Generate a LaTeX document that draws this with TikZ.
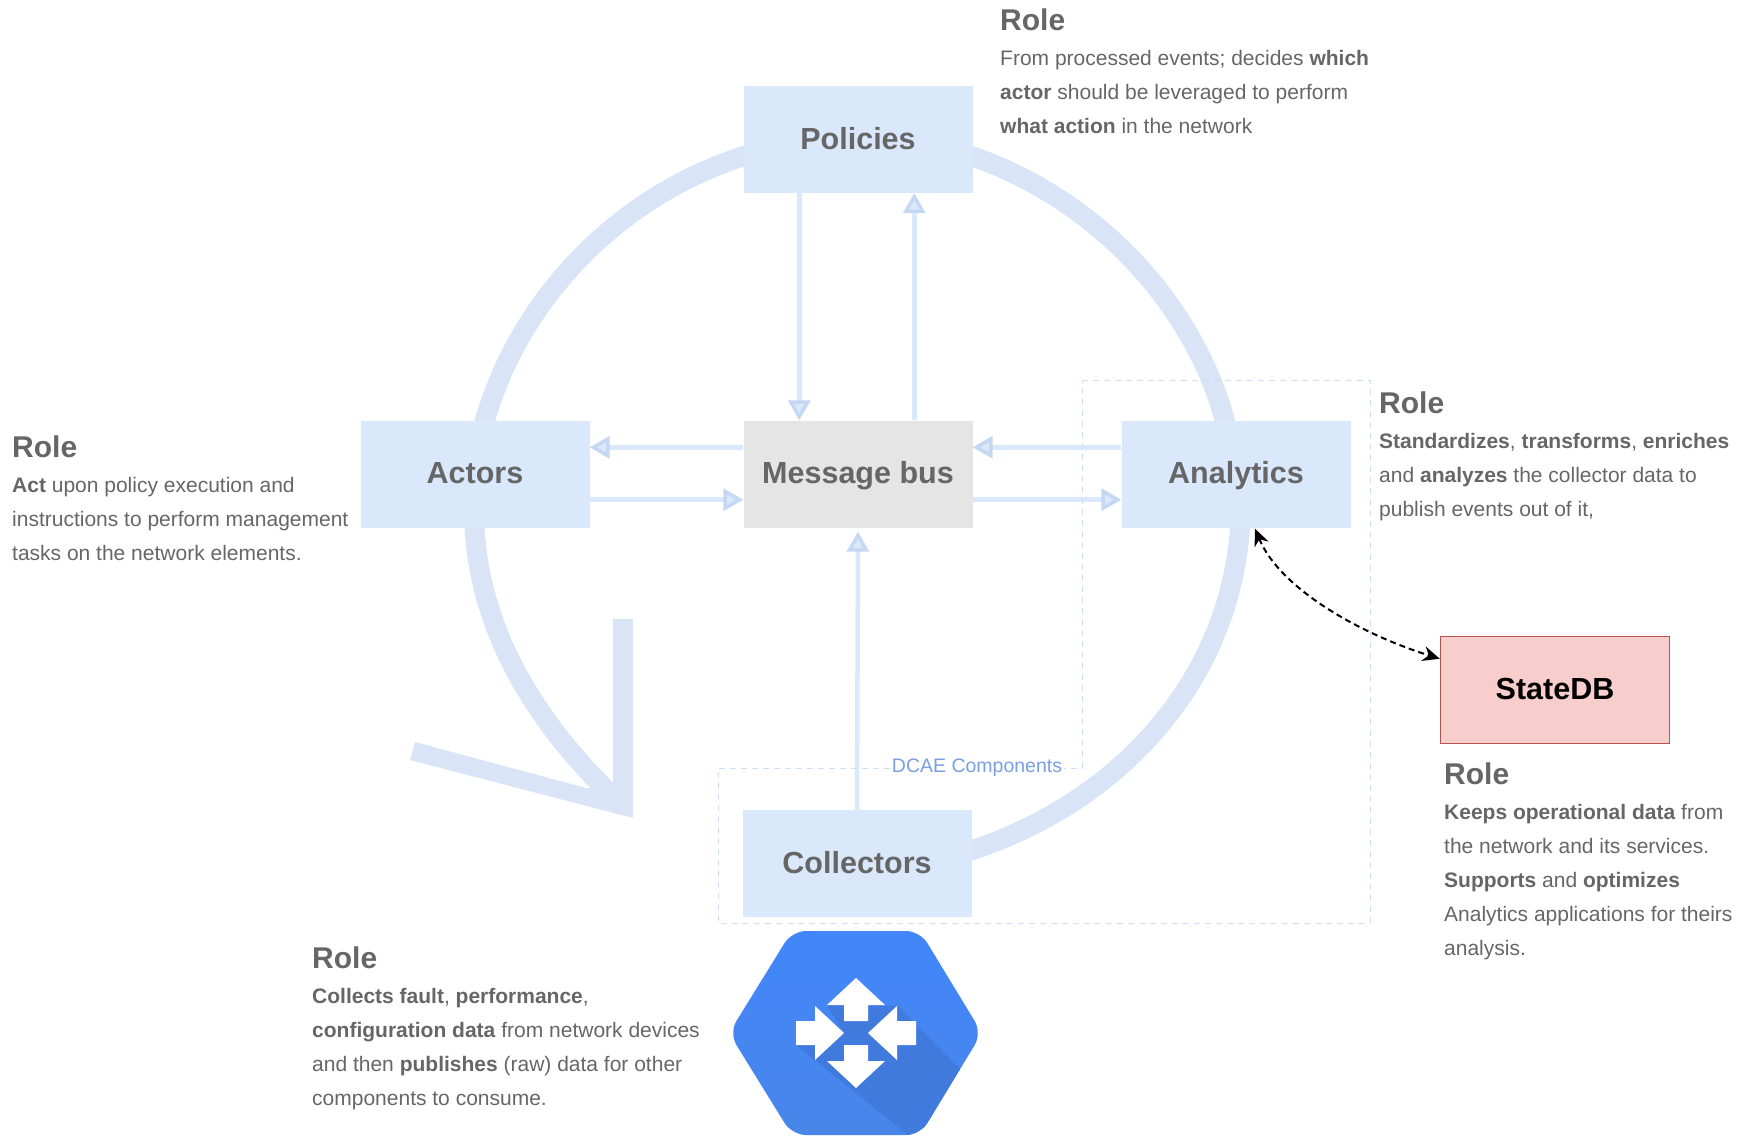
\documentclass[tikz,border=0pt]{standalone}
\usepackage{fontspec}
\setmainfont{Liberation Sans}
\usetikzlibrary{arrows.meta,backgrounds,calc}
\definecolor{Boxblue}{RGB}{218,232,252}
\definecolor{Ringblue}{RGB}{217,229,246}
\definecolor{Tipblue}{RGB}{196,215,243}
\definecolor{Dashblue}{RGB}{205,222,247}
\definecolor{Labelblue}{RGB}{120,160,226}
\definecolor{Textgrey}{RGB}{102,102,102}
\definecolor{Hextop}{RGB}{66,134,252}
\definecolor{Hexbottom}{RGB}{72,134,232}
\definecolor{Hexshade}{RGB}{64,122,220}
\definecolor{Statered}{RGB}{248,206,204}
\definecolor{Stateedge}{RGB}{184,84,80}
\tikzset{
  box/.style={minimum width=229,minimum height=107,inner sep=0,text height=25,text depth=6,fill=Boxblue,text=Textgrey,font=\fontsize{30.5}{34}\selectfont\bfseries},
  role/.style={anchor=north west,inner sep=0,align=left,text=Textgrey,font=\fontsize{21}{34}\selectfont},
  ring/.style={line width=20,draw=Ringblue},
  flow/.style={line width=4.5,draw=Boxblue,-{Triangle[length=20,width=22,line width=3.5,color=Tipblue,fill=Boxblue]}},
}
\newcommand{\rolehead}{{\fontsize{30}{34}\selectfont\bfseries Role}\\[0.5pt]}
\begin{document}
\begin{tikzpicture}[x=1pt,y=-1pt]
  \useasboundingbox (0,0) rectangle (1748,1135);
  \node[box] (policies) at (858,139.5) {Policies};
  \node[box] (actors) at (475,474) {Actors};
  \node[box,fill=black!10] (bus) at (858,474) {Message bus};
  \node[box] (analytics) at (1236,474) {Analytics};
  \node[box] (collectors) at (857,863.5) {Collectors};
  \node[box,fill=Statered,draw=Stateedge,line width=1.5,text=black] (statedb) at (1555,690) {StateDB};
  \begin{scope}[on background layer]
    \draw[ring] ([xshift=8,yshift=-68]policies.north west) .. controls +(-128,38) and +(35,-130) .. ([xshift=123,yshift=-6]actors.north west);
    \draw[ring] ([xshift=114,yshift=6]actors.south west) .. controls +(4,112) and +(-82,-76) .. (622,805);
    \draw[ring] ([xshift=-8,yshift=-43]collectors.north east) .. controls +(155,-48) and +(-8,158) .. ([xshift=119,yshift=6]analytics.south west);
    \draw[ring] ([xshift=105,yshift=-6]analytics.north west) .. controls +(-30,-120) and +(132,43) .. ([xshift=-8,yshift=-68]policies.north east);
  \end{scope}
  \fill[Ringblue] (613,619) -- (633,619) -- (633,818) -- (410,760) -- (415,742) -- (586,788) -- (613,788) -- cycle;
  \draw[flow] ([xshift=56]policies.south west) -- ([xshift=56]bus.north west);
  \draw[flow] ([xshift=171]bus.north west) -- ([xshift=171]policies.south west);
  \draw[flow] ([yshift=-27]bus.north west) -- ([yshift=-27]actors.north east);
  \draw[flow] ([yshift=28]actors.south east) -- ([yshift=28]bus.south west);
  \draw[flow] ([yshift=-27]analytics.north west) -- ([yshift=-27]bus.north east);
  \draw[flow] ([yshift=28]bus.south east) -- ([yshift=28]analytics.south west);
  \draw[flow] (collectors.north) -- ([yshift=-4]bus.south);
  \draw[dashed,line width=1,draw=Dashblue,dash pattern=on 6pt off 5pt] (1082,380) -- (1370,380) -- (1370,923) -- (718,923) -- (718,768) -- (1082,768) -- cycle;
  \node[fill=white,inner sep=2,text=Labelblue,font=\fontsize{19.5}{20}\selectfont] (dcae) at (977,768) {DCAE Components};
  \draw[line width=2,black,dash pattern=on 6pt off 4pt,{Stealth[length=17,width=15]}-{Stealth[length=17,width=15]}] ([xshift=19,yshift=-1]analytics.south) .. controls +(25,60) and +(-80,-25) .. ([yshift=-23]statedb.north west);
  \node[role] (rolepolicies) at (1000,9) {\rolehead From processed events; decides \textbf{which}\\\textbf{actor} should be leveraged to perform\\\textbf{what action} in the network};
  \node[role] (roleanalytics) at (1379,392) {\rolehead \textbf{Standardizes}, \textbf{transforms}, \textbf{enriches}\\and \textbf{analyzes} the collector data to\\publish events out of it,};
  \node[role] (roleactors) at (12,436) {\rolehead \textbf{Act} upon policy execution and\\instructions to perform management\\tasks on the network elements.};
  \node[role] (rolestatedb) at (1444,763) {\rolehead \textbf{Keeps operational data} from\\the network and its services.\\\textbf{Supports} and \textbf{optimizes}\\Analytics applications for theirs\\analysis.};
  \node[role] (rolecollectors) at (312,947) {\rolehead \textbf{Collects fault}, \textbf{performance},\\\textbf{configuration data} from network devices\\and then \textbf{publishes} (raw) data for other\\components to consume.};
  \begin{scope}[shift={(856,1033)}]
    \path[clip,rounded corners=14] (-127,0) -- (-64,-102) -- (64,-102) -- (126,0) -- (64,102) -- (-64,102) -- cycle;
    \shade[top color=Hextop,bottom color=Hexbottom] (-130,-110) rectangle (130,110);
    \fill[Hexshade] (-29,-28) -- (42,-27) -- (110,42) -- (110,110) -- (62,110) -- (-60,12) -- (-12,0) -- cycle;
    \foreach \r in {0,180}{
      \fill[white,rotate=\r] (0,-55) -- (29,-28) -- (12,-28) -- (12,-12) -- (-12,-12) -- (-12,-28) -- (-29,-28) -- cycle;
      \fill[white,rotate=\r] (-12,0) -- (-41,27) -- (-41,12) -- (-60,12) -- (-60,-12) -- (-41,-12) -- (-41,-27) -- cycle;
    }
  \end{scope}
\end{tikzpicture}
\end{document}
